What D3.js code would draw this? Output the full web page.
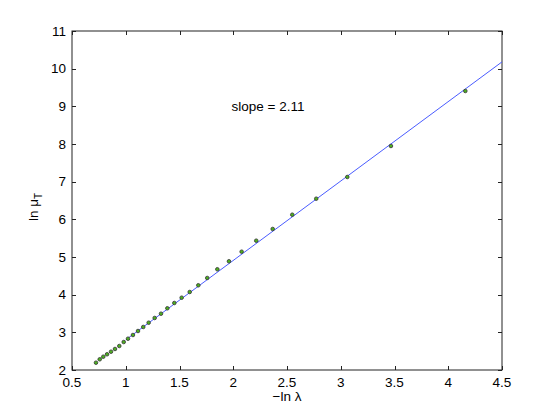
<!DOCTYPE html>
<html><head><meta charset="utf-8">
<script src="https://cdn.jsdelivr.net/npm/d3@7"></script>
<style>body{margin:0;background:#fff}svg{display:block}text{font-family:"Liberation Sans",Arial,Helvetica,sans-serif;fill:#000}</style>
</head><body>
<svg id="c" width="554" height="416"></svg>
<script>
const xVals = [0.723,0.758,0.791,0.826,0.863,0.900,0.940,0.981,1.021,1.067,1.114,1.163,1.213,1.269,1.328,1.387,1.452,1.520,1.595,1.675,1.758,1.852,1.960,2.078,2.214,2.367,2.549,2.772,3.061,3.467,4.159];
const yVals = [2.194,2.284,2.353,2.417,2.486,2.558,2.637,2.743,2.831,2.929,3.035,3.142,3.256,3.381,3.495,3.638,3.779,3.920,4.071,4.249,4.443,4.674,4.886,5.141,5.433,5.744,6.123,6.548,7.124,7.947,9.407];
const fitX = [1.0, 4.5];
const fitY = [2.80, 10.18];
const xTicks = [0.5,1,1.5,2,2.5,3,3.5,4,4.5];
const yTicks = [2,3,4,5,6,7,8,9,10,11];
const annotation = "slope = 2.11";

const svg = d3.select("#c");
const L=72, R=502, T=31, B=370;
const x = d3.scaleLinear().domain([0.5,4.5]).range([L,R]);
const y = d3.scaleLinear().domain([2,11]).range([B,T]);

svg.append("rect").attr("x",L).attr("y",T).attr("width",R-L).attr("height",B-T)
  .attr("fill","#fff").attr("stroke","#222").attr("stroke-width",1);

const fmt = d => String(d);
const gx = svg.append("g");
xTicks.forEach(t=>{
  const px = Math.round(x(t))+0.5;
  gx.append("line").attr("x1",px).attr("x2",px).attr("y1",B).attr("y2",B-4).attr("stroke","#222");
  gx.append("line").attr("x1",px).attr("x2",px).attr("y1",T).attr("y2",T+4).attr("stroke","#222");
  gx.append("text").attr("x",x(t)).attr("y",387).attr("text-anchor","middle").attr("font-size",13.5).text(fmt(t));
});
const gy = svg.append("g");
yTicks.forEach(t=>{
  const py = Math.round(y(t))+0.5;
  gy.append("line").attr("x1",L).attr("x2",L+4).attr("y1",py).attr("y2",py).attr("stroke","#222");
  gy.append("line").attr("x1",R).attr("x2",R-4).attr("y1",py).attr("y2",py).attr("stroke","#222");
  gy.append("text").attr("x",66).attr("y",y(t)+4.5).attr("text-anchor","end").attr("font-size",13.5).text(fmt(t));
});

svg.append("path").datum(fitX.map((d,i)=>[d,fitY[i]]))
  .attr("d",d3.line().x(d=>x(d[0])).y(d=>y(d[1])))
  .attr("fill","none").attr("stroke","#4a5cff").attr("stroke-width",1);

svg.append("g").selectAll("circle").data(xVals.map((d,i)=>[d,yVals[i]])).join("circle")
  .attr("cx",d=>x(d[0])).attr("cy",d=>y(d[1])).attr("r",1.8)
  .attr("fill","#4caf1f").attr("stroke","#333").attr("stroke-width",0.8);

svg.append("text").attr("x",268).attr("y",111).attr("text-anchor","middle").attr("font-size",13.5).text(annotation);
svg.append("text").attr("x",287).attr("y",401).attr("text-anchor","middle").attr("font-size",13.5).text("\u2212ln \u03bb");
const yl = svg.append("text").attr("transform","translate(38,207) rotate(-90)").attr("text-anchor","middle").attr("font-size",13.5);
yl.append("tspan").text("ln \u03bc");
yl.append("tspan").attr("font-size",10).attr("dy",4).text("T");
</script>
</body></html>
